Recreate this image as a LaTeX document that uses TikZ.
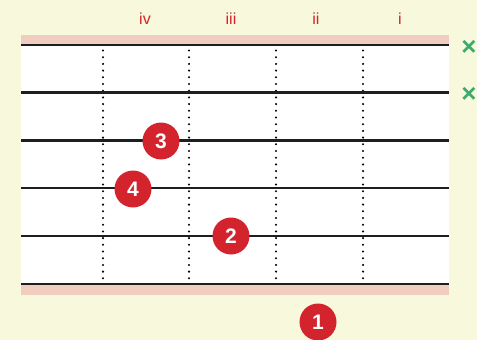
\documentclass[tikz,border=0pt]{standalone}
\usepackage{fontspec}
\setmainfont{Liberation Sans}
\usetikzlibrary{positioning}
\definecolor{chartcream}{RGB}{248, 248, 220}
\definecolor{chartpink}{RGB}{241, 205, 192}
\definecolor{chartred}{RGB}{211, 35, 45}
\definecolor{chartgreen}{RGB}{60, 170, 110}
\definecolor{chartstring}{RGB}{30, 30, 30}

\begin{document}
\begin{tikzpicture}[
    x=1pt, y=-1pt,
    finger/.style={circle, fill=chartred, text=white, minimum size=37pt,
                   inner sep=0pt, font=\fontsize{21}{21}\selectfont\bfseries},
    numeral/.style={text=chartred, font=\fontsize{16}{16}\selectfont},
    mute/.style={text=chartgreen, inner sep=0pt, font=\fontsize{26}{26}\selectfont\bfseries},
    string/.style={line width=2.4pt, color=chartstring},
    fretline/.style={line width=2.3pt, line cap=round, dash pattern=on 0pt off 6.7pt}
]
    \useasboundingbox (0,0) rectangle (477,340);
    \fill[chartcream] (0,0) rectangle (477,340);

    % board
    \fill[chartpink] (21,35) rectangle (449,295);
    \fill[white] (21,45) rectangle (449,284);

    % frets
    \coordinate (f1t) at (103,50.5);  \coordinate (f1b) at (103,284);
    \coordinate (f2t) at (189,50.5);  \coordinate (f2b) at (189,284);
    \coordinate (f3t) at (276,50.5);  \coordinate (f3b) at (276,284);
    \coordinate (f4t) at (363,50.5);  \coordinate (f4b) at (363,284);
    \draw[fretline] (f1t) -- (f1b);
    \draw[fretline] (f2t) -- (f2b);
    \draw[fretline] (f3t) -- (f3b);
    \draw[fretline] (f4t) -- (f4b);

    % strings
    \coordinate (s1l) at (21,45);   \coordinate (s1r) at (449,45);
    \coordinate (s2l) at (21,92.5); \coordinate (s2r) at (449,92.5);
    \coordinate (s3l) at (21,140.5);\coordinate (s3r) at (449,140.5);
    \coordinate (s4l) at (21,188);  \coordinate (s4r) at (449,188);
    \coordinate (s5l) at (21,236);  \coordinate (s5r) at (449,236);
    \coordinate (s6l) at (21,284);  \coordinate (s6r) at (449,284);
    \draw[string] (s1l) -- (s1r);
    \draw[string] (s2l) -- (s2r);
    \draw[string] (s3l) -- (s3r);
    \draw[string] (s4l) -- (s4r);
    \draw[string] (s5l) -- (s5r);
    \draw[string] (s6l) -- (s6r);

    % position numerals
    \node[numeral] (iv) at (145,18.5) {iv};
    \node[numeral] (iii) at (231,18.5) {iii};
    \node[numeral] (ii) at (316,18.5) {ii};
    \node[numeral] (i) at (400,18.5) {i};

    % muted strings
    \node[mute] (m1) at (469,48) {×};
    \node[mute] (m2) at (469,94.5) {×};

    % fingers
    \node[finger] (n3) at (161,141) {3};
    \node[finger] (n4) at (133,189) {4};
    \node[finger] (n2) at (231,236) {2};
    \node[finger] (n1) at (318,322) {1};
\end{tikzpicture}
\end{document}
